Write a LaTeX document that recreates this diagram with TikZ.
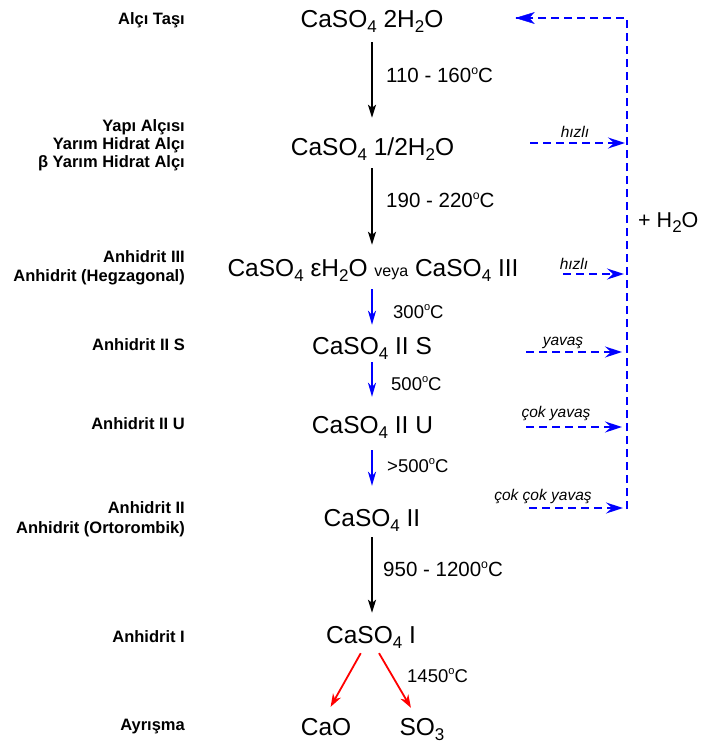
\documentclass[tikz,border=0pt]{standalone}
\usepackage{fontspec}
\setmainfont{Liberation Sans}
\usepackage{graphicx}
\usetikzlibrary{arrows.meta}
\newcommand\mfont{\fontsize{24.5}{29}\selectfont}
\newcommand\ssub[1]{\raisebox{-5pt}{\fontsize{17}{17}\selectfont #1}}
\newcommand\dgr{\raisebox{0.38em}{\scalebox{0.6}{o}}}
\definecolor{myblue}{RGB}{0,0,255}
\definecolor{myred}{RGB}{255,0,0}
\tikzset{
  formula/.style={inner sep=0pt, anchor=base, font=\mfont, text height=18pt, text depth=6pt},
  lbl/.style={inner sep=0pt, anchor=base east, font=\fontsize{16.5}{19}\selectfont\bfseries},
  tempbig/.style={inner sep=0pt, anchor=base west, font=\fontsize{20.5}{24}\selectfont},
  tempsmall/.style={inner sep=0pt, anchor=base west, font=\fontsize{18.5}{22}\selectfont},
  rate/.style={inner sep=0pt, anchor=base, font=\fontsize{15.5}{18}\selectfont\itshape},
  blkarrow/.style={line width=1.8pt, black, -{Stealth[length=13pt,width=8pt,inset=3pt]}},
  bluarrow/.style={line width=1.8pt, myblue, -{Stealth[length=14pt,width=8pt,inset=4pt]}},
  redarrow/.style={line width=1.8pt, myred, -{Stealth[length=13pt,width=9pt,inset=4pt]}},
  dasharrow/.style={line width=2.2pt, myblue, dash pattern=on 8pt off 5pt, -{Stealth[length=17pt,width=11pt,inset=6pt]}},
  dashline/.style={line width=2.2pt, myblue, dash pattern=on 8pt off 5pt}
}
\begin{document}
\begin{tikzpicture}[x=1pt,y=-1pt]
\useasboundingbox[fill=white] (0,0) rectangle (702,747);

% formulas
\node[formula] (f1) at (372,27) {CaSO\ssub{4} 2H\ssub{2}O};
\node[formula] (f2) at (372.5,155) {CaSO\ssub{4} 1/2H\ssub{2}O};
\node[formula] (f3) at (373,276) {CaSO\ssub{4} εH\ssub{2}O {\fontsize{16}{16}\selectfont veya} CaSO\ssub{4} III};
\node[formula] (f4) at (372,354) {CaSO\ssub{4} II S};
\node[formula] (f5) at (372.5,433) {CaSO\ssub{4} II U};
\node[formula] (f6) at (372,526) {CaSO\ssub{4} II};
\node[formula] (f7) at (371,643) {CaSO\ssub{4} I};
\node[formula] (cao) at (326,735) {CaO};
\node[formula] (so3) at (422,735) {SO\ssub{3}};

% left labels
\node[lbl] (l1) at (185,24) {Alçı Taşı};
\node[lbl] (l2a) at (185,131) {Yapı Alçısı};
\node[lbl] (l2b) at (185,149) {Yarım Hidrat Alçı};
\node[lbl] (l2c) at (185,167) {β Yarım Hidrat Alçı};
\node[lbl] (l3a) at (185,262) {Anhidrit III};
\node[lbl] (l3b) at (185,281) {Anhidrit (Hegzagonal)};
\node[lbl] (l4) at (185,350) {Anhidrit II S};
\node[lbl] (l5) at (185,429) {Anhidrit II U};
\node[lbl] (l6a) at (185,513) {Anhidrit II};
\node[lbl] (l6b) at (185,533) {Anhidrit (Ortorombik)};
\node[lbl] (l7) at (185,642) {Anhidrit I};
\node[lbl] (l8) at (185,730) {Ayrışma};

% temperatures
\node[tempbig] (t1) at (386,82) {110 - 160\dgr C};
\node[tempbig] (t2) at (386,207) {190 - 220\dgr C};
\node[tempsmall] (t3) at (393,318) {300\dgr C};
\node[tempsmall] (t4) at (391,390) {500\dgr C};
\node[tempsmall] (t5) at (387,472) {>500\dgr C};
\node[tempbig] (t6) at (383,576) {950 - 1200\dgr C};
\node[tempsmall] (t7) at (407,682) {1450\dgr C};

% vertical arrows
\draw[blkarrow, shorten <=9pt, shorten >=19pt] (f1.south) -- (f1.south |- f2.north);
\draw[blkarrow, shorten <=7pt, shorten >=13pt] (f1.south |- f2.south) -- (f1.south |- f3.north);
\draw[bluarrow, shorten <=7pt, shorten >=11pt] (f1.south |- f3.south) -- (f1.south |- f4.north);
\draw[bluarrow, shorten <=2pt, shorten >=18pt] (f1.south |- f4.south) -- (f1.south |- f5.north);
\draw[bluarrow, shorten <=11pt, shorten >=22pt] (f1.south |- f5.south) -- (f1.south |- f6.north);
\draw[blkarrow, shorten <=5pt, shorten >=12pt] (f6.south) -- (f6.south |- f7.north);

% decomposition
\draw[redarrow, shorten <=4.6pt, shorten >=11.4pt] ([xshift=-8pt]f7.south) -- ([xshift=-1pt]cao.north);
\draw[redarrow, shorten <=4.6pt, shorten >=10.4pt] ([xshift=5.7pt]f7.south) -- ([xshift=-5.8pt]so3.north);

% rehydration
\coordinate (rtop) at (627,18);
\coordinate (rbot) at (627,509);
\coordinate (tgt) at (516,18);
\draw[dashline] (rbot) -- (rtop) -- (tgt);
\draw[myblue, fill=myblue] (tgt) -- ++(18,-5.5) -- ++(-5,5.5) -- ++(5,5.5) -- cycle;

\coordinate (s1) at (530,143);
\coordinate (s2) at (563,274);
\coordinate (s3) at (526,352);
\coordinate (s4) at (526,427);
\coordinate (s5) at (529,508);
\draw[dasharrow, shorten >=2pt] (s1) -- (s1 -| rtop);
\draw[dasharrow, shorten >=3pt] (s2) -- (s2 -| rtop);
\draw[dasharrow, shorten >=5pt] (s3) -- (s3 -| rtop);
\draw[dasharrow, shorten >=5pt] (s4) -- (s4 -| rtop);
\draw[dasharrow, shorten >=4pt] (s5) -- (s5 -| rtop);

\node[rate] (r1) at (575,137) {hızlı};
\node[rate] (r2) at (574,269) {hızlı};
\node[rate] (r3) at (563,345) {yavaş};
\node[rate] (r4) at (556,417) {çok yavaş};
\node[rate] (r5) at (543,500) {çok çok yavaş};

\node[inner sep=0pt, anchor=base west, font=\fontsize{21.5}{25}\selectfont] (water) at (638,227) {+ H\ssub{2}O};
\end{tikzpicture}
\end{document}
